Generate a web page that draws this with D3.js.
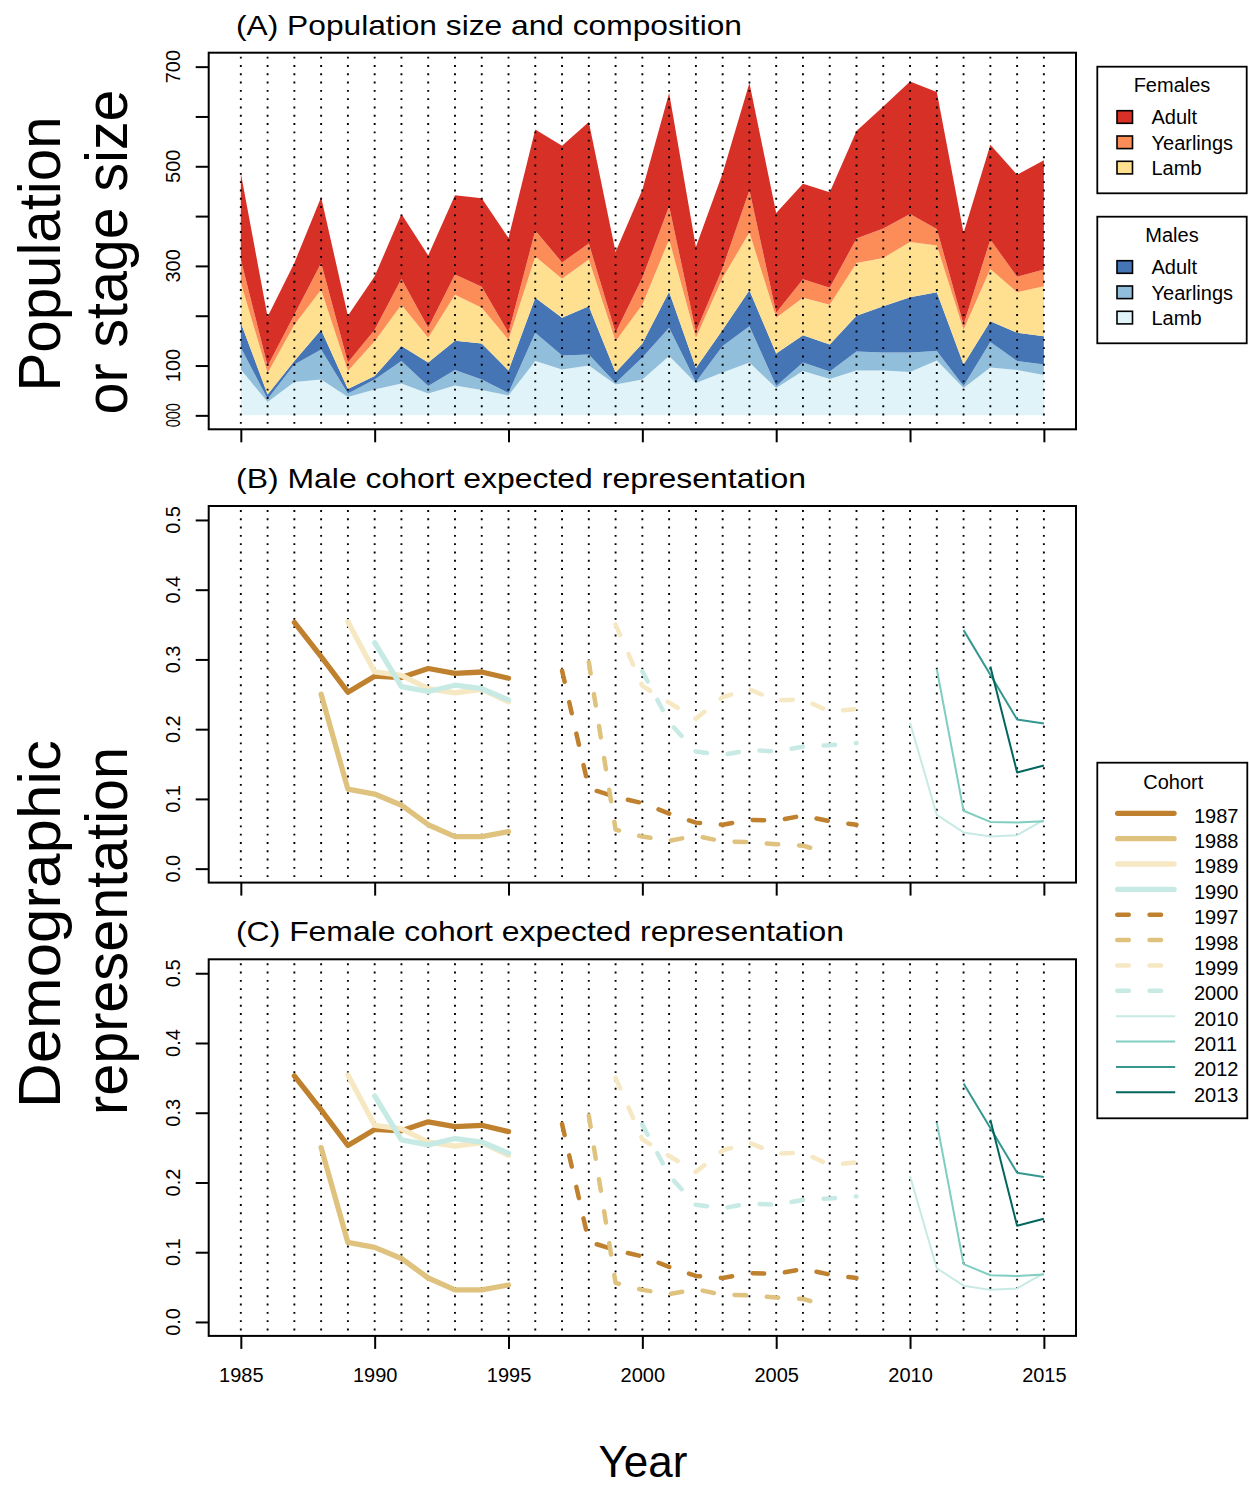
<!DOCTYPE html>
<html>
<head>
<meta charset="utf-8">
<script src="https://cdn.jsdelivr.net/npm/d3@7"></script>
<style>
  body { margin: 0; background: #fff; }
  svg { display: block; font-family: 'Liberation Sans', Arial, Helvetica, sans-serif; }
</style>
</head>
<body>
<svg id="chart" width="1249" height="1487"></svg>
<script>
// ---- data -----------------------------------------------------------------
const years = [1985, 1986, 1987, 1988, 1989, 1990, 1991, 1992, 1993, 1994, 1995,
  1996, 1997, 1998, 1999, 2000, 2001, 2002, 2003, 2004, 2005,
  2006, 2007, 2008, 2009, 2010, 2011, 2012, 2013, 2014, 2015];

// stage counts per year (stacked bottom -> top)
const maleLamb = [92, 27, 67, 72, 37, 52, 64, 44, 60, 51, 40, 109, 92, 100, 62, 72, 119, 65, 86, 106, 55, 89, 73, 90, 90, 87, 110, 55, 96, 91, 81];
const maleYearling = [44, 6, 35, 60, 7, 20, 45, 15, 31, 21, 5, 57, 28, 22, 3, 44, 57, 2, 53, 73, 4, 17, 15, 38, 36, 39, 19, 4, 51, 18, 21];
const maleAdult = [50, 9, 7, 40, 9, 7, 30, 47, 59, 72, 45, 70, 76, 97, 21, 28, 72, 28, 33, 72, 65, 55, 54, 72, 93, 111, 118, 43, 42, 57, 57];
const femaleLamb = [80, 43, 73, 80, 36, 70, 83, 50, 92, 72, 62, 83, 78, 94, 63, 78, 105, 61, 104, 116, 72, 75, 80, 106, 97, 111, 94, 70, 105, 81, 100];
const femaleYearling = [47, 14, 20, 54, 17, 23, 52, 20, 41, 42, 14, 52, 33, 32, 17, 54, 67, 12, 20, 85, 10, 37, 34, 49, 59, 56, 33, 10, 59, 31, 34];
const femaleAdult = [173, 99, 104, 132, 94, 107, 130, 145, 159, 178, 190, 203, 234, 244, 162, 177, 227, 170, 190, 215, 200, 192, 192, 216, 245, 266, 275, 184, 190, 205, 219];

const stageKeys = ['maleLamb', 'maleYearling', 'maleAdult', 'femaleLamb', 'femaleYearling', 'femaleAdult'];
const stageSeries = { maleLamb, maleYearling, maleAdult, femaleLamb, femaleYearling, femaleAdult };

// cohort expected representation (first value = cohort year)
const cohortLabels = ['1987', '1988', '1989', '1990', '1997', '1998', '1999', '2000', '2010', '2011', '2012', '2013'];
const cohort1987 = [0.353, 0.304, 0.253, 0.276, 0.274, 0.287, 0.280, 0.282, 0.273];
const cohort1988 = [0.250, 0.114, 0.107, 0.091, 0.063, 0.046, 0.046, 0.053];
const cohort1989 = [0.354, 0.282, 0.277, 0.258, 0.252, 0.257, 0.239];
const cohort1990 = [0.324, 0.261, 0.254, 0.263, 0.258, 0.242];
const cohort1997 = [0.284, 0.115, 0.103, 0.094, 0.079, 0.066, 0.063, 0.070, 0.069, 0.076, 0.068, 0.063];
const cohort1998 = [0.296, 0.056, 0.046, 0.040, 0.047, 0.039, 0.038, 0.035, 0.033, 0.022];
const cohort1999 = [0.350, 0.262, 0.238, 0.215, 0.246, 0.257, 0.241, 0.243, 0.225, 0.229];
const cohort2000 = [0.283, 0.210, 0.168, 0.163, 0.170, 0.168, 0.175, 0.177, 0.180];
const cohort2010 = [0.209, 0.077, 0.052, 0.046, 0.048, 0.070];
const cohort2011 = [0.286, 0.083, 0.067, 0.066, 0.068];
const cohort2012 = [0.342, 0.278, 0.214, 0.208];
const cohort2013 = [0.290, 0.138, 0.148];
const cohortValues = [cohort1987, cohort1988, cohort1989, cohort1990, cohort1997, cohort1998,
  cohort1999, cohort2000, cohort2010, cohort2011, cohort2012, cohort2013];

const xTicks = [1985, 1990, 1995, 2000, 2005, 2010, 2015];
const popTicks = [0, 100, 200, 300, 400, 500, 600, 700];
const popLabels = { 0: '000', 100: '100', 300: '300', 500: '500', 700: '700' };
const repTicks = [0, 0.1, 0.2, 0.3, 0.4, 0.5];

// ---- styles ---------------------------------------------------------------
const stageColor = {
  maleLamb: '#e0f3f8', maleYearling: '#91bfdb', maleAdult: '#4575b4',
  femaleLamb: '#fee090', femaleYearling: '#fc8d59', femaleAdult: '#d73027',
};
const cohortColor = ['#bf812d', '#dfc27d', '#f6e8c3', '#c7eae5', '#bf812d', '#dfc27d',
  '#f6e8c3', '#c7eae5', '#c7eae5', '#80cdc1', '#35978f', '#01665e'];
function cohortStyle(i) {
  if (i < 4) return { width: 5.3, dash: null, cap: 'round' };
  if (i < 8) return { width: 4.5, dash: '11.5 20.8', cap: 'round' };
  return { width: 2, dash: null, cap: 'butt' };
}

// ---- layout ---------------------------------------------------------------
const svg = d3.select('#chart');
const plotLeft = 208.7;
const plotRight = 1076;
const panelH = 376.6;
const panelTops = [52.7, 506, 959.3];

const x = d3.scaleLinear().domain([1985 - 1.2, 2015 + 1.2]).range([plotLeft, plotRight]);

function drawGrid(g, top) {
  g.append('g').selectAll('line').data(years).join('line')
    .attr('x1', (d) => x(d)).attr('x2', (d) => x(d))
    .attr('y1', top + 4).attr('y2', top + panelH)
    .attr('stroke', '#000').attr('stroke-width', 1.9)
    .attr('stroke-dasharray', '1.9 6.4');
}

function drawFrame(g, top, y, ticks, labelFor, withXLabels) {
  g.append('rect')
    .attr('x', plotLeft).attr('y', top)
    .attr('width', plotRight - plotLeft).attr('height', panelH)
    .attr('fill', 'none').attr('stroke', '#000').attr('stroke-width', 2);

  const xa = g.append('g')
    .attr('transform', `translate(0,${top + panelH})`)
    .call(d3.axisBottom(x).tickValues(xTicks).tickSize(13).tickSizeOuter(0).tickFormat(withXLabels ? d3.format('d') : ''));
  xa.select('.domain').remove();
  xa.selectAll('line').attr('stroke', '#000').attr('stroke-width', 2);
  xa.selectAll('text').attr('font-size', 20).attr('fill', '#000').attr('dy', null).attr('y', 46.5);

  const ya = g.append('g')
    .attr('transform', `translate(${plotLeft},0)`)
    .call(d3.axisLeft(y).tickValues(ticks).tickSize(13).tickSizeOuter(0).tickFormat(''));
  ya.select('.domain').remove();
  ya.selectAll('line').attr('stroke', '#000').attr('stroke-width', 2);

  g.append('g').selectAll('text').data(ticks.filter((t) => labelFor(t) !== null)).join('text')
    .attr('transform', (d) => `translate(180,${y(d)}) rotate(-90)`)
    .attr('text-anchor', 'middle')
    .attr('font-size', 20)
    .attr('fill', '#000')
    .each(function (d) {
      const s = labelFor(d);
      const t = d3.select(this).text(s);
      if (s === '000') t.attr('textLength', 24).attr('lengthAdjust', 'spacingAndGlyphs');
    });
}

function drawTitle(text, top, len) {
  svg.append('text')
    .attr('x', 236).attr('y', top - 18.2)
    .attr('font-size', 28)
    .attr('textLength', len).attr('lengthAdjust', 'spacingAndGlyphs')
    .text(text);
}

// ---- panel A: stacked population ------------------------------------------
const yA = d3.scaleLinear().domain([-28, 728]).range([panelTops[0] + panelH, panelTops[0]]);
const rows = years.map((yr, i) => {
  const row = { year: yr };
  stageKeys.forEach((k) => { row[k] = stageSeries[k][i]; });
  return row;
});
const stacked = d3.stack().keys(stageKeys)(rows);
const area = d3.area()
  .x((d) => x(d.data.year))
  .y0((d) => yA(d[0]))
  .y1((d) => yA(d[1]));

const gA = svg.append('g');
gA.append('g').selectAll('path').data(stacked).join('path')
  .attr('d', area)
  .attr('fill', (d) => stageColor[d.key]);
drawGrid(gA, panelTops[0]);
drawFrame(gA, panelTops[0], yA, popTicks, (t) => (popLabels[t] !== undefined ? popLabels[t] : null), false);
drawTitle('(A) Population size and composition', panelTops[0], 506);

// ---- panels B and C: cohort lines -----------------------------------------
function drawCohortPanel(top, title, len, withXLabels) {
  const y = d3.scaleLinear().domain([-0.02, 0.52]).range([top + panelH, top]);
  const g = svg.append('g');
  drawGrid(g, top);
  const line = d3.line().x((d) => x(d.year)).y((d) => y(d.value));
  cohortLabels.forEach((lab, i) => {
    const start = Number(lab);
    const pts = cohortValues[i].map((v, j) => ({ year: start + j, value: v }));
    const st = cohortStyle(i);
    g.append('path')
      .datum(pts)
      .attr('d', line)
      .attr('fill', 'none')
      .attr('stroke', cohortColor[i])
      .attr('stroke-width', st.width)
      .attr('stroke-linecap', st.cap)
      .attr('stroke-linejoin', 'round')
      .attr('stroke-dasharray', st.dash);
  });
  drawFrame(g, top, y, repTicks, (t) => t.toFixed(1), withXLabels);
  drawTitle(title, top, len);
}
drawCohortPanel(panelTops[1], '(B) Male cohort expected representation', 570, false);
drawCohortPanel(panelTops[2], '(C) Female cohort expected representation', 608, true);

// ---- axis titles -----------------------------------------------------------
function sideTitle(text, cx, cy, len) {
  svg.append('text')
    .attr('transform', `translate(${cx},${cy}) rotate(-90)`)
    .attr('text-anchor', 'middle')
    .attr('font-size', 60)
    .attr('textLength', len).attr('lengthAdjust', 'spacingAndGlyphs')
    .text(text);
}
sideTitle('Population', 60, 254, 275);
sideTitle('or stage size', 127, 252, 325);
sideTitle('Demographic', 60, 924, 368);
sideTitle('representation', 127, 931, 368);

svg.append('text')
  .attr('x', 643).attr('y', 1477)
  .attr('text-anchor', 'middle')
  .attr('font-size', 44)
  .text('Year');

// ---- legends ---------------------------------------------------------------
function fillLegend(top, title, keys) {
  const g = svg.append('g');
  g.append('rect').attr('x', 1097.3).attr('y', top).attr('width', 149.4).attr('height', 126.6)
    .attr('fill', '#fff').attr('stroke', '#000').attr('stroke-width', 1.8);
  g.append('text').attr('x', 1172).attr('y', top + 25).attr('text-anchor', 'middle')
    .attr('font-size', 20).text(title);
  const names = ['Adult', 'Yearlings', 'Lamb'];
  keys.forEach((k, i) => {
    const cy = top + 50.3 + i * 25.3;
    g.append('rect').attr('x', 1117).attr('y', cy - 6.3).attr('width', 15.5).attr('height', 12.6)
      .attr('fill', stageColor[k]).attr('stroke', '#000').attr('stroke-width', 1.6);
    g.append('text').attr('x', 1151.5).attr('y', cy + 7.3).attr('font-size', 20).text(names[i]);
  });
}
fillLegend(66.7, 'Females', ['femaleAdult', 'femaleYearling', 'femaleLamb']);
fillLegend(216.7, 'Males', ['maleAdult', 'maleYearling', 'maleLamb']);

const gL = svg.append('g');
gL.append('rect').attr('x', 1097.3).attr('y', 762.7).attr('width', 150).attr('height', 355.6)
  .attr('fill', '#fff').attr('stroke', '#000').attr('stroke-width', 1.8);
gL.append('text').attr('x', 1173.3).attr('y', 789.3).attr('text-anchor', 'middle')
  .attr('font-size', 20).text('Cohort');
cohortLabels.forEach((lab, i) => {
  const cy = 813.3 + i * 25.36;
  const st = cohortStyle(i);
  const pad = st.cap === 'round' ? st.width / 2 : 0;
  gL.append('line')
    .attr('x1', 1115 + pad + (st.cap === 'butt' ? 1 : 0)).attr('x2', 1176.7 - pad - (st.cap === 'butt' ? 1.5 : 0))
    .attr('y1', cy).attr('y2', cy)
    .attr('stroke', cohortColor[i])
    .attr('stroke-width', st.width)
    .attr('stroke-linecap', st.cap)
    .attr('stroke-dasharray', st.dash);
  gL.append('text').attr('x', 1194).attr('y', cy + 9.4).attr('font-size', 20).text(lab);
});
</script>
</body>
</html>
